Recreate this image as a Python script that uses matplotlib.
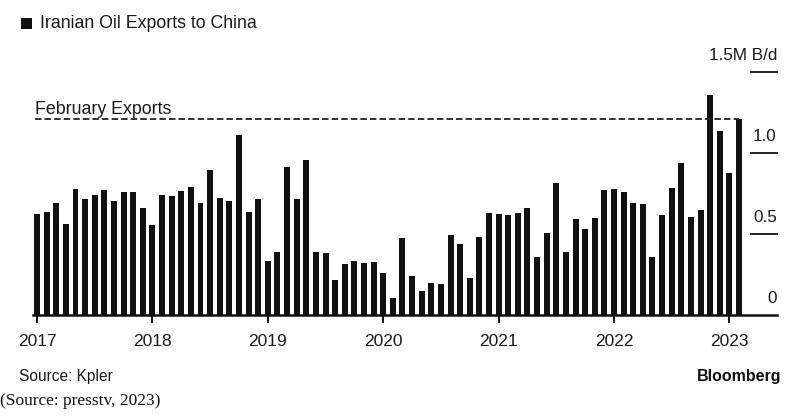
import matplotlib.pyplot as plt
from matplotlib.patches import Rectangle
import matplotlib.transforms as mtransforms
import numpy as np

W, H = 785, 417
DPI = 100

# monthly exports, million barrels/day, Jan 2017 - Feb 2023
exports = [
    0.62, 0.635, 0.69, 0.56, 0.775, 0.71, 0.735, 0.77, 0.70, 0.755, 0.755, 0.66,
    0.55, 0.735, 0.73, 0.76, 0.79, 0.69, 0.89, 0.72, 0.70, 1.11, 0.635, 0.71,
    0.33, 0.385, 0.91, 0.71, 0.955, 0.385, 0.378, 0.21, 0.31, 0.33, 0.316, 0.324,
    0.256, 0.10, 0.475, 0.24, 0.143, 0.196, 0.188, 0.49, 0.435, 0.225, 0.477, 0.625,
    0.62, 0.612, 0.625, 0.66, 0.357, 0.505, 0.81, 0.388, 0.59, 0.528, 0.598, 0.77,
    0.775, 0.758, 0.686, 0.68, 0.355, 0.612, 0.783, 0.933, 0.604, 0.643, 1.355, 1.135,
    0.873, 1.205,
]
years = ['2017', '2018', '2019', '2020', '2021', '2022', '2023']
y_ticks = [0, 0.5, 1.0, 1.5]
y_tick_labels = ['0', '0.5', '1.0', '1.5M B/d']
title = 'Iranian Oil Exports to China'

plt.rcParams['font.family'] = ['Liberation Sans', 'DejaVu Sans']
BAR = '#111111'
TXT = '#1a1a1a'


def px(x, y):
    # pixel position (from top-left) -> figure fraction
    return x / W, 1 - y / H


fig = plt.figure(figsize=(W / DPI, H / DPI), dpi=DPI)
left, right, top, bottom = 33, 777, 71.5, 314.5
ax = fig.add_axes([left / W, 1 - bottom / H, (right - left) / W, (bottom - top) / H])

months = np.arange(len(exports))
ax.bar(months, exports, width=0.62, color=BAR, zorder=2)
ax.set_xlim(-0.42, 76.95)
ax.set_ylim(0, 1.5)

for s in ['left', 'right', 'top']:
    ax.spines[s].set_visible(False)
ax.spines['bottom'].set_linewidth(1.8)
ax.spines['bottom'].set_color(BAR)
ax.set_xticks(np.arange(len(years)) * 12)
ax.set_xticklabels(years, fontsize=12.5, color=TXT)
ax.tick_params(axis='x', length=6, width=1.4, color=BAR, pad=8)
ax.set_yticks([])

# right-hand value labels with short rules
trans = mtransforms.blended_transform_factory(ax.transAxes, ax.transData)
off = mtransforms.offset_copy(trans, fig=fig, x=0, y=8, units='points')
for v, lab in zip(y_ticks, y_tick_labels):
    if v > 0:
        ax.plot([0.965, 1.0], [v, v], color=BAR, lw=1.3, transform=trans, clip_on=False)
    ax.text(1.0, v, lab, ha='right', va='baseline', fontsize=12.3, color=TXT, transform=off)

# February exports reference line
feb = exports[-1]
ax.plot([-0.2, months[-1]], [feb, feb], color='#222222', lw=1.3,
        linestyle=(0, (3.6, 1.7)), zorder=3)
off = mtransforms.offset_copy(ax.transData, fig=fig, x=0, y=4, units='points')
ax.text(-0.2, feb, 'February Exports', ha='left', va='baseline', fontsize=12.8,
        color=TXT, transform=off)

# legend-style title
x0, y0 = px(21, 29)
fig.patches.append(Rectangle((x0, y0), 11 / W, 11 / H, transform=fig.transFigure,
                             facecolor=BAR, edgecolor='none'))
fig.text(*px(40, 24), title, ha='left', va='center', fontsize=12.8, color=TXT)

fig.text(*px(19, 376), 'Source: Kpler', ha='left', va='center', fontsize=11.2, color=TXT)
fig.text(*px(781, 376), 'Bloomberg', ha='right', va='center', fontsize=11.5,
         fontweight='bold', color=BAR)
fig.text(*px(0, 401), '(Source: presstv, 2023)', ha='left', va='center', fontsize=12.5,
         family=['Liberation Serif', 'DejaVu Serif'], color=BAR)

fig.savefig('out.png', dpi=DPI)
